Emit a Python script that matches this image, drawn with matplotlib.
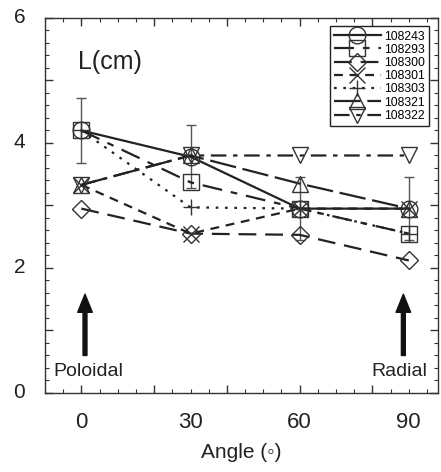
import matplotlib
matplotlib.use("Agg")
import matplotlib.pyplot as plt
from matplotlib.ticker import MultipleLocator

plt.rcParams['font.family'] = ['Liberation Sans', 'DejaVu Sans']

angles = [0, 30, 60, 90]
labels = ['108243', '108293', '108300', '108301', '108303', '108321', '108322']
L_108243 = [4.20, 3.78, 2.95, 2.95]
L_108293 = [4.20, 3.37, 2.95, 2.55]
L_108300 = [2.95, 2.55, 2.53, 2.12]
L_108301 = [3.33, 2.55, 2.95, 2.95]
L_108303 = [4.20, 2.97, 2.95, 2.55]
L_108321 = [3.33, 3.80, 3.35, 2.95]
L_108322 = [3.33, 3.80, 3.80, 3.80]
err_108243 = [0.52, 0.50, 0.50, 0.50]

series = [L_108243, L_108293, L_108300, L_108301, L_108303, L_108321, L_108322]
markers = ['o', 's', 'D', 'x', '+', '^', 'v']
msizes = [12, 11, 9, 11, 11, 11, 11]
styles = ['-', (0, (9, 4, 3, 4)), (0, (8, 4)), (0, (4, 3)), (0, (1.2, 3)),
          (0, (12, 3)), (0, (7, 3, 2, 3))]

fig = plt.figure(figsize=(4.41, 4.72), dpi=100)
ax = fig.add_axes([0.102, 0.1674, 0.891, 0.7945])
col = '#222222'

ax.errorbar(angles, L_108243, yerr=err_108243, fmt='none', ecolor='#555555',
            elinewidth=1.0, capsize=3.5, capthick=1.0, zorder=1)

for ys, lab, mk, ms, ls in zip(series, labels, markers, msizes, styles):
    ax.plot(angles, ys, linestyle=ls, color=col, lw=1.6, marker=mk, ms=ms,
            mfc='none', mec='#333333', mew=1.0, label=lab, zorder=3)

ax.set_xlim(-10, 98)
ax.set_ylim(0, 6)
ax.xaxis.set_major_locator(MultipleLocator(20))
ax.xaxis.set_minor_locator(MultipleLocator(5))
ax.yaxis.set_major_locator(MultipleLocator(1))
ax.yaxis.set_minor_locator(MultipleLocator(0.2))
ax.tick_params(which='both', direction='in', top=True, right=True, labelbottom=False,
               labelleft=False, color='#333333')
ax.tick_params(which='major', length=6, width=1)
ax.tick_params(which='minor', length=3, width=0.8)
for s in ax.spines.values():
    s.set_linewidth(1.0)
    s.set_color('#333333')

tf = ax.get_xaxis_transform()
for a in [0, 30, 60, 90]:
    ax.text(a, -0.078, str(a), transform=tf, ha='center', va='center', fontsize=16,
            color='#222222')
tfy = ax.get_yaxis_transform()
for v in [0, 2, 4, 6]:
    ax.text(-0.065, v, str(v), transform=tfy, ha='center', va='center', fontsize=15,
            color='#222222')
ax.text(0.5, -0.158, 'Angle (\u25e6)', transform=ax.transAxes, ha='center',
        va='center', fontsize=15, color='#222222')

ax.text(-1, 5.3, 'L(cm)', fontsize=18, ha='left', va='center', color='#222222')
ax.text(2, 0.35, 'Poloidal', fontsize=14, ha='center', va='center', color='#222222')
ax.text(87.5, 0.35, 'Radial', fontsize=14, ha='center', va='center', color='#222222')

arrowp = dict(facecolor='#111111', edgecolor='#111111', width=2.8, headwidth=10.5,
              headlength=13, shrink=0)
ax.annotate('', xy=(1, 1.58), xytext=(1, 0.6), arrowprops=arrowp)
ax.annotate('', xy=(88.5, 1.58), xytext=(88.5, 0.6), arrowprops=arrowp)

leg = ax.legend(loc='upper right', bbox_to_anchor=(0.977, 0.978), fontsize=8.8,
                frameon=True, fancybox=False, framealpha=1, edgecolor='#222222',
                handlelength=3.8, handletextpad=0.25, labelspacing=0.1,
                borderpad=0.35, borderaxespad=0)
leg.get_frame().set_linewidth(1.0)

fig.savefig('out.png', dpi=100)
